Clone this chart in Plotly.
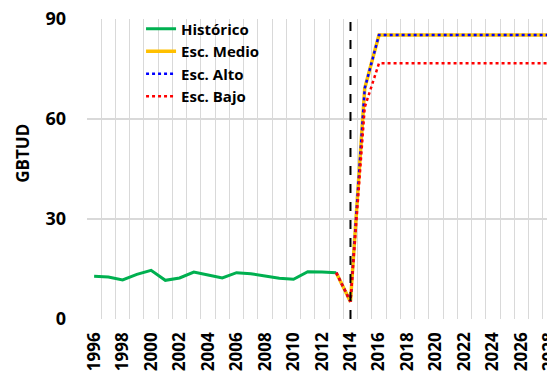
import plotly.graph_objects as go

# **** Data
years_hist = list(range(1996, 2014))
historico = [12.8, 12.6, 11.7, 13.4, 14.6, 11.6, 12.3, 14.1, 13.2, 12.3,
             13.9, 13.6, 12.9, 12.2, 11.9, 14.2, 14.1, 13.9]

years_esc = list(range(2013, 2029))
esc_medio = [13.9, 5.2, 69.2] + [85.2] * 13
esc_alto = [13.9, 5.2, 69.2] + [85.2] * 13
esc_bajo = [13.9, 5.2, 63.5] + [76.7] * 13

event_year = 2014
tick_years = list(range(1996, 2029, 2))
y_ticks = [0, 30, 60, 90]

# **** Style
font_family = "Open Sans, Liberation Sans, sans-serif"
grid_color = "#d9d9d9"

fig = go.Figure()

fig.add_trace(go.Scatter(x=years_hist, y=historico, mode="lines", name="Histórico",
                         line=dict(color="#00b050", width=3)))
fig.add_trace(go.Scatter(x=years_esc, y=esc_medio, mode="lines", name="Esc. Medio",
                         line=dict(color="#ffc000", width=3.5)))
fig.add_trace(go.Scatter(x=years_esc, y=esc_alto, mode="lines", name="Esc. Alto",
                         line=dict(color="#0000ff", width=2.5, dash="dot")))
fig.add_trace(go.Scatter(x=years_esc, y=esc_bajo, mode="lines", name="Esc. Bajo",
                         line=dict(color="#ff0000", width=2.5, dash="dot")))

# vertical reference line
fig.add_shape(type="line", x0=event_year, x1=event_year, y0=0, y1=1,
              xref="x", yref="paper", line=dict(color="black", width=2, dash="dash"))

# the page body adds 8px around the figure, so margins are reduced by 8
fig.update_layout(
    width=555,
    height=374,
    margin=dict(l=79, r=6, t=11, b=63, autoexpand=False),
    plot_bgcolor="white",
    paper_bgcolor="white",
    font=dict(family=font_family, size=16, color="black"),
    showlegend=True,
    legend=dict(x=0.115, y=1.022, xanchor="left", yanchor="top",
                bgcolor="rgba(0,0,0,0)", tracegroupgap=0,
                font=dict(size=15, family=font_family, weight="bold"),
                itemwidth=30),
    annotations=[dict(text="<b>GBTUD</b>", textangle=-90, showarrow=False,
                      xref="paper", yref="paper", x=-0.139, y=0.553,
                      xanchor="center", yanchor="middle",
                      font=dict(size=17, family=font_family))],
)

fig.update_xaxes(
    range=[1995.5, 2028.5],
    tickvals=tick_years,
    ticktext=["<b>%d</b>" % y for y in tick_years],
    tickangle=-90,
    tickfont=dict(size=17),
    showgrid=False,
    ticks="",
    ticklabelstandoff=9,
    ticklabeloverflow="allow",
    automargin=False,
    minor=dict(tick0=1995.5, dtick=1, showgrid=True, gridcolor=grid_color, gridwidth=1),
    showline=False,
    zeroline=False,
)
fig.update_yaxes(
    range=[0, 90],
    tickvals=y_ticks,
    ticktext=["<b>%d</b>" % v for v in y_ticks],
    tickfont=dict(size=18),
    showgrid=True,
    gridcolor=grid_color,
    gridwidth=1.5,
    zeroline=False,
    ticks="",
    automargin=False,
    ticklabeloverflow="allow",
    ticklabelstandoff=20,
)

fig.write_html("out.html")
